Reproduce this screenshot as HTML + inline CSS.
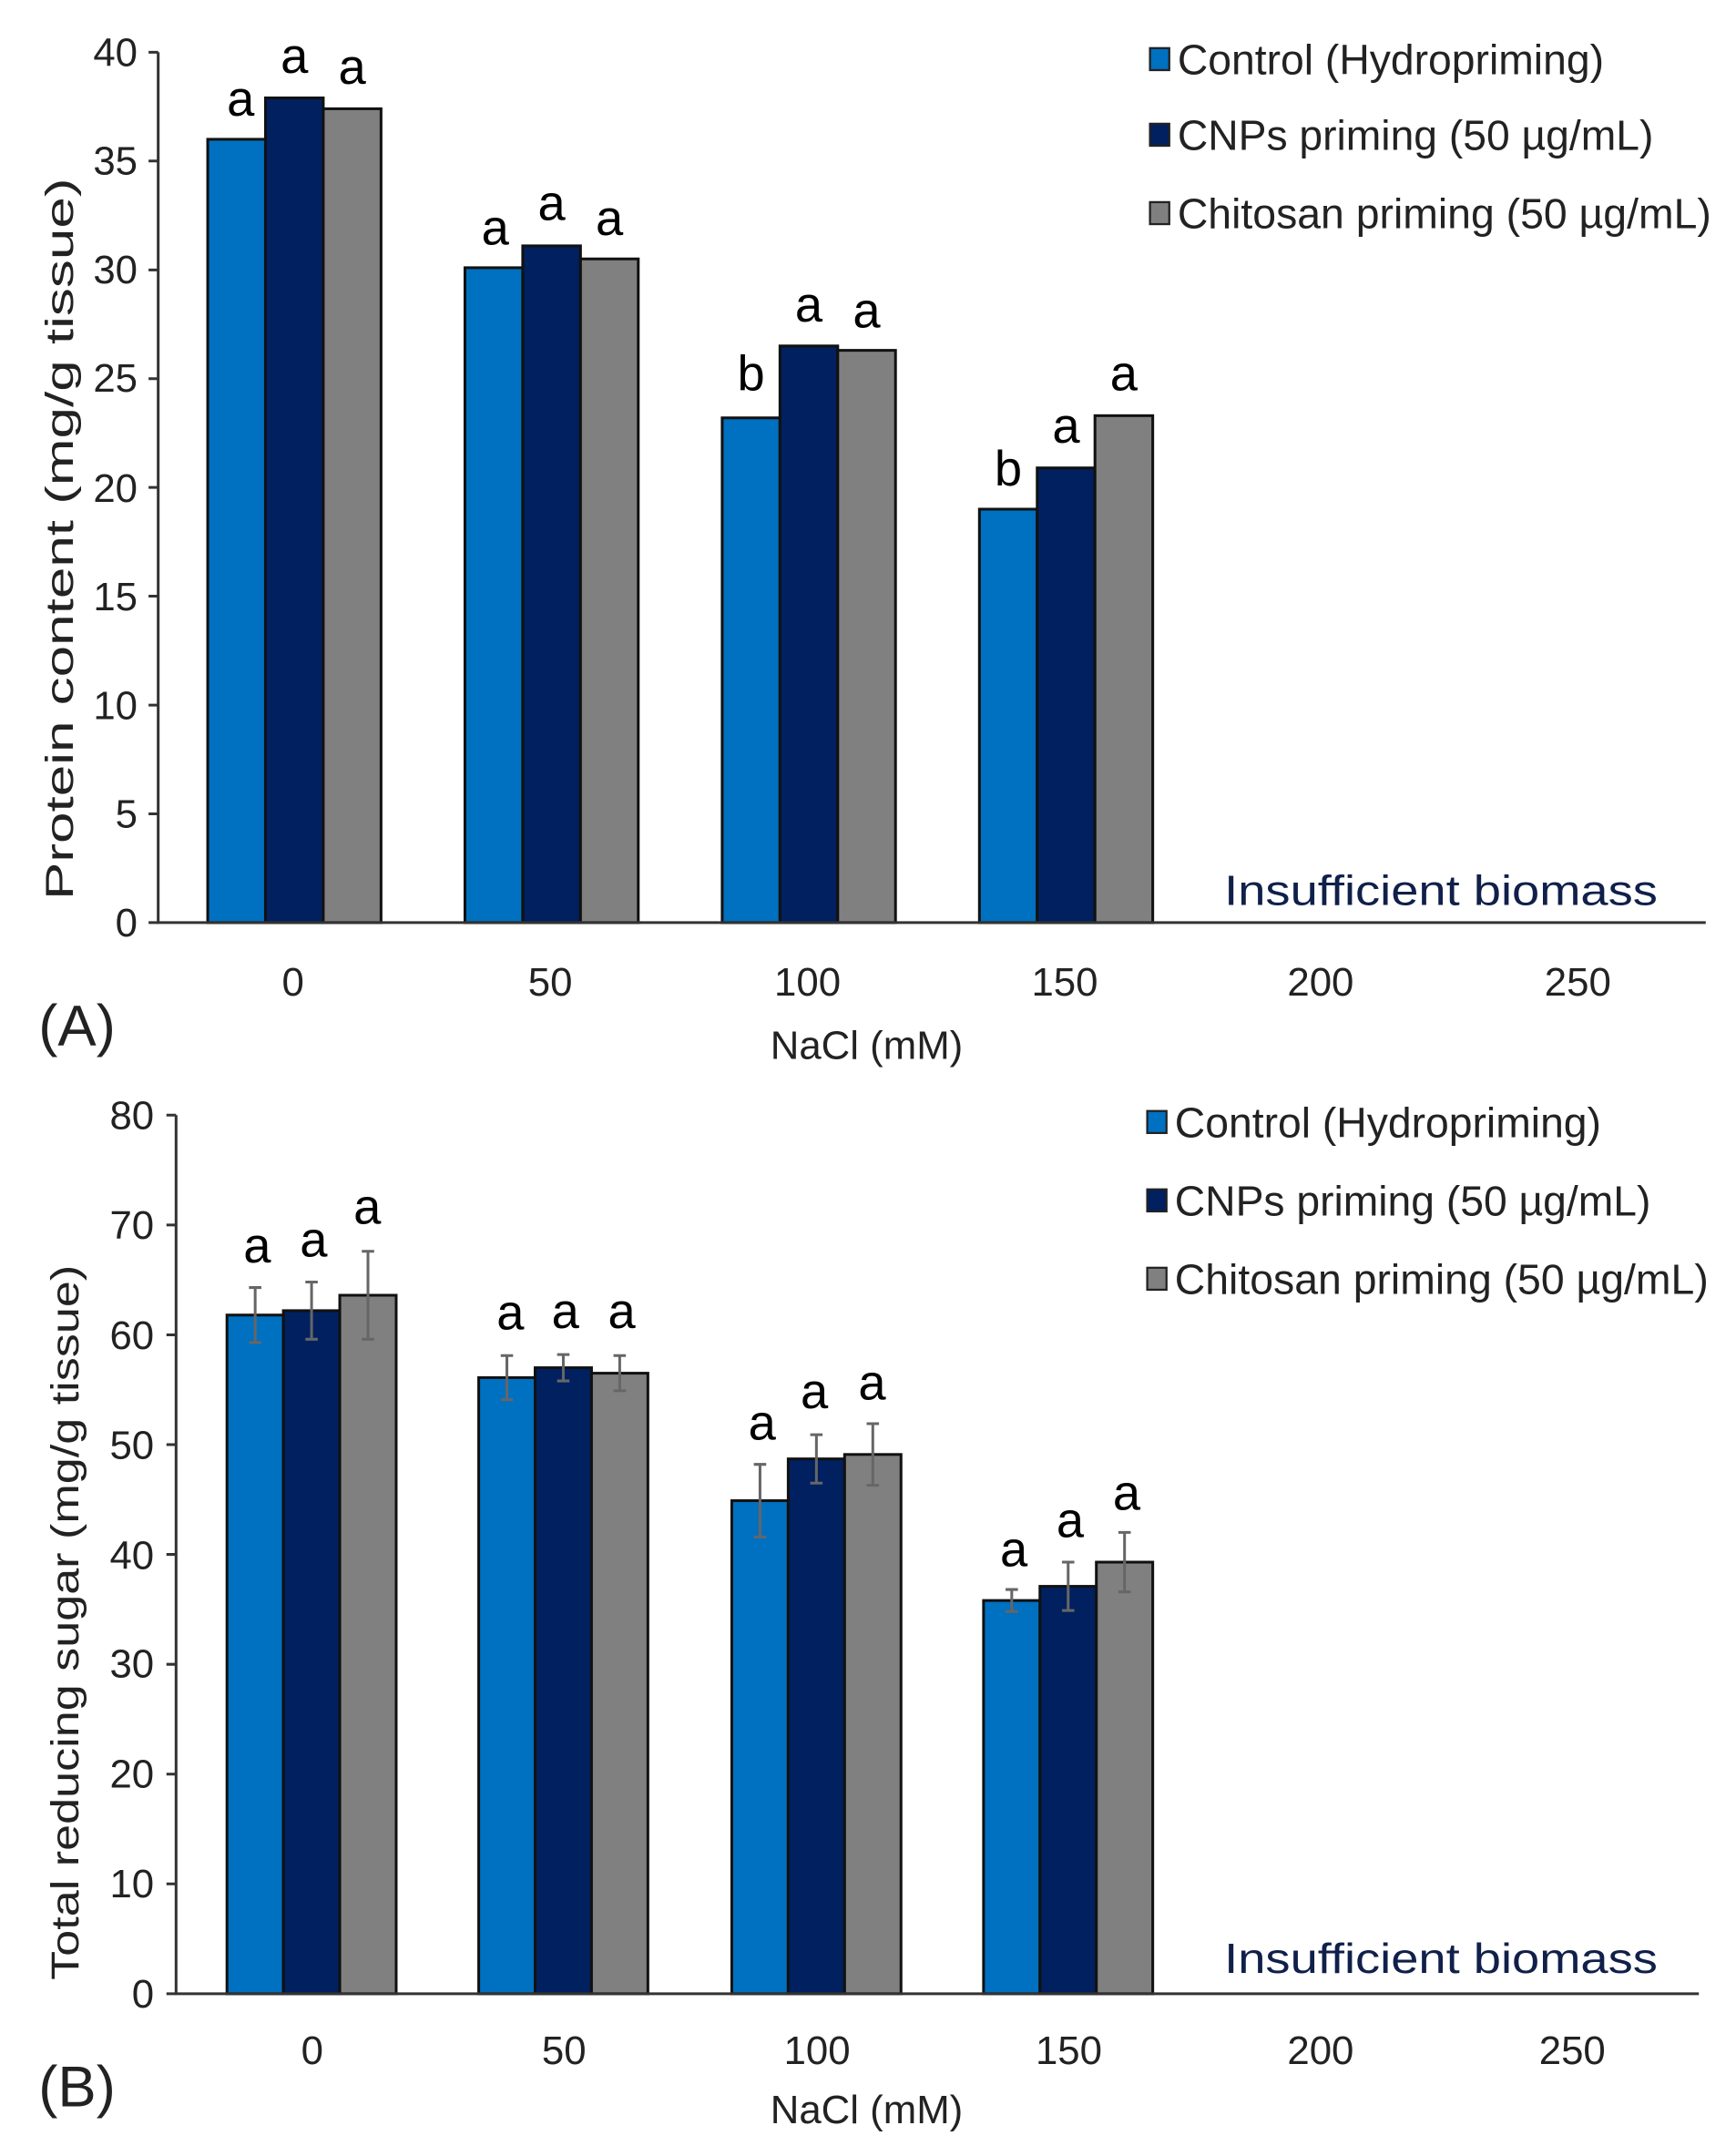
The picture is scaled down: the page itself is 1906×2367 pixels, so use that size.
<!DOCTYPE html>
<html><head><meta charset="utf-8"><style>
html,body{margin:0;padding:0;background:#fff;}
svg{display:block;}
.t{font-family:"Liberation Sans Narrow","Liberation Sans",sans-serif;fill:#222;}
.l{font-family:"Liberation Sans",sans-serif;fill:#000;font-size:36px;text-anchor:middle;}
.ib{font-family:"Liberation Sans",sans-serif;fill:#10204a;font-size:31px;}
</style></head><body>
<svg width="1906" height="2367" viewBox="0 0 1262 1568" preserveAspectRatio="none" xmlns="http://www.w3.org/2000/svg">
<g stroke="#111" stroke-width="2">
<rect x="151" y="101.3" width="42" height="569.7" fill="#0070C0"/>
<rect x="193" y="71.2" width="42" height="599.8" fill="#002060"/>
<rect x="235" y="79.1" width="42" height="591.9" fill="#808080"/>
<rect x="338" y="194.7" width="42" height="476.3" fill="#0070C0"/>
<rect x="380" y="178.8" width="42" height="492.2" fill="#002060"/>
<rect x="422" y="188.3" width="42" height="482.7" fill="#808080"/>
<rect x="525" y="303.9" width="42" height="367.1" fill="#0070C0"/>
<rect x="567" y="251.6" width="42" height="419.4" fill="#002060"/>
<rect x="609" y="254.8" width="42" height="416.2" fill="#808080"/>
<rect x="712" y="370.3" width="42" height="300.7" fill="#0070C0"/>
<rect x="754" y="340.3" width="42" height="330.7" fill="#002060"/>
<rect x="796" y="302.3" width="42" height="368.7" fill="#808080"/>
<rect x="165" y="956.4" width="41" height="493.6" fill="#0070C0"/>
<rect x="206" y="953.2" width="41" height="496.8" fill="#002060"/>
<rect x="247" y="942" width="41" height="508" fill="#808080"/>
<rect x="348" y="1001.9" width="41" height="448.1" fill="#0070C0"/>
<rect x="389" y="994.7" width="41" height="455.3" fill="#002060"/>
<rect x="430" y="998.7" width="41" height="451.3" fill="#808080"/>
<rect x="532" y="1091.4" width="41" height="358.6" fill="#0070C0"/>
<rect x="573" y="1061" width="41" height="389" fill="#002060"/>
<rect x="614" y="1057.8" width="41" height="392.2" fill="#808080"/>
<rect x="715" y="1164" width="41" height="286" fill="#0070C0"/>
<rect x="756" y="1153.7" width="41" height="296.3" fill="#002060"/>
<rect x="797" y="1136.1" width="41" height="313.9" fill="#808080"/>
</g>
<g stroke="#666" stroke-width="2" fill="none">
<path d="M185.5 936.4V976.4M181 936.4h9M181 976.4h9"/>
<path d="M226.5 932.4V974M222 932.4h9M222 974h9"/>
<path d="M267.5 910V974M263 910h9M263 974h9"/>
<path d="M368.5 985.9V1017.9M364 985.9h9M364 1017.9h9"/>
<path d="M409.5 985.1V1004.3M405 985.1h9M405 1004.3h9"/>
<path d="M450.5 985.9V1011.5M446 985.9h9M446 1011.5h9"/>
<path d="M552.5 1065V1117.8M548 1065h9M548 1117.8h9"/>
<path d="M593.5 1043.4V1078.6M589 1043.4h9M589 1078.6h9"/>
<path d="M634.5 1035.4V1080.2M630 1035.4h9M630 1080.2h9"/>
<path d="M735.5 1156V1172M731 1156h9M731 1172h9"/>
<path d="M776.5 1136.1V1171.3M772 1136.1h9M772 1171.3h9"/>
<path d="M817.5 1114.5V1157.7M813 1114.5h9M813 1157.7h9"/>
</g>
<g stroke="#333" stroke-width="2" fill="none">
<path d="M115 38V671H1240"/>
<path d="M108 38h7M108 117.1h7M108 196.3h7M108 275.4h7M108 354.5h7M108 433.6h7M108 512.8h7M108 591.9h7M108 671h7"/>
<path d="M128 811V1450H1235"/>
<path d="M121 811h7M121 890.9h7M121 970.8h7M121 1050.6h7M121 1130.5h7M121 1210.4h7M121 1290.3h7M121 1370.1h7M121 1450h7"/>
</g>
<g class="t" font-size="29" text-anchor="end">
<text x="100" y="48">40</text><text x="100" y="127">35</text><text x="100" y="206">30</text><text x="100" y="285">25</text><text x="100" y="365">20</text><text x="100" y="444">15</text><text x="100" y="523">10</text><text x="100" y="602">5</text><text x="100" y="681">0</text>
<text x="112" y="821">80</text><text x="112" y="901">70</text><text x="112" y="981">60</text><text x="112" y="1061">50</text><text x="112" y="1141">40</text><text x="112" y="1220">30</text><text x="112" y="1300">20</text><text x="112" y="1380">10</text><text x="112" y="1460">0</text>
</g>
<g class="t" font-size="29" text-anchor="middle">
<text x="213" y="724">0</text><text x="400" y="724">50</text><text x="587" y="724">100</text><text x="774" y="724">150</text><text x="960" y="724">200</text><text x="1147" y="724">250</text>
<text x="227" y="1501">0</text><text x="410" y="1501">50</text><text x="594" y="1501">100</text><text x="777" y="1501">150</text><text x="960" y="1501">200</text><text x="1143" y="1501">250</text>
<text x="630" y="770">NaCl (mM)</text>
<text x="630" y="1544">NaCl (mM)</text>
<text transform="translate(53 392) rotate(-90)" font-size="28" textLength="525" lengthAdjust="spacingAndGlyphs">Protein content (mg/g tissue)</text>
<text transform="translate(57 1180) rotate(-90)" font-size="28" textLength="520" lengthAdjust="spacingAndGlyphs">Total reducing sugar (mg/g tissue)</text>
</g>
<g class="t" font-size="42"><text x="28" y="760">(A)</text><text x="28" y="1532">(B)</text></g>
<g stroke="#222" stroke-width="1.5">
<rect x="836" y="35" width="14" height="16" fill="#0070C0"/>
<rect x="836" y="90" width="14" height="16" fill="#002060"/>
<rect x="836" y="147" width="14" height="16" fill="#808080"/>
<rect x="834" y="808" width="14" height="16" fill="#0070C0"/>
<rect x="834" y="865" width="14" height="16" fill="#002060"/>
<rect x="834" y="922" width="14" height="16" fill="#808080"/>
</g>
<g class="t" font-size="31">
<text x="856" y="54" textLength="310" lengthAdjust="spacingAndGlyphs">Control (Hydropriming)</text>
<text x="856" y="109" textLength="346" lengthAdjust="spacingAndGlyphs">CNPs priming (50 µg/mL)</text>
<text x="856" y="166" textLength="388" lengthAdjust="spacingAndGlyphs">Chitosan priming (50 µg/mL)</text>
<text x="854" y="827" textLength="310" lengthAdjust="spacingAndGlyphs">Control (Hydropriming)</text>
<text x="854" y="884" textLength="346" lengthAdjust="spacingAndGlyphs">CNPs priming (50 µg/mL)</text>
<text x="854" y="941" textLength="388" lengthAdjust="spacingAndGlyphs">Chitosan priming (50 µg/mL)</text>
</g>
<text class="ib" x="890" y="658" textLength="315" lengthAdjust="spacingAndGlyphs">Insufficient biomass</text>
<text class="ib" x="890" y="1435" textLength="315" lengthAdjust="spacingAndGlyphs">Insufficient biomass</text>
<g class="l">
<text x="175" y="84">a</text><text x="214" y="53">a</text><text x="256" y="61">a</text>
<text x="360" y="178">a</text><text x="401" y="160">a</text><text x="443" y="171">a</text>
<text x="546" y="284">b</text><text x="588" y="234">a</text><text x="630" y="238">a</text>
<text x="733" y="353">b</text><text x="775" y="322">a</text><text x="817" y="284">a</text>
<text x="187" y="918">a</text><text x="228" y="914">a</text><text x="267" y="890">a</text>
<text x="371" y="967">a</text><text x="411" y="966">a</text><text x="452" y="966">a</text>
<text x="554" y="1047">a</text><text x="592" y="1024">a</text><text x="634" y="1018">a</text>
<text x="737" y="1139">a</text><text x="778" y="1118">a</text><text x="819" y="1098">a</text>
</g>
</svg>
</body></html>
